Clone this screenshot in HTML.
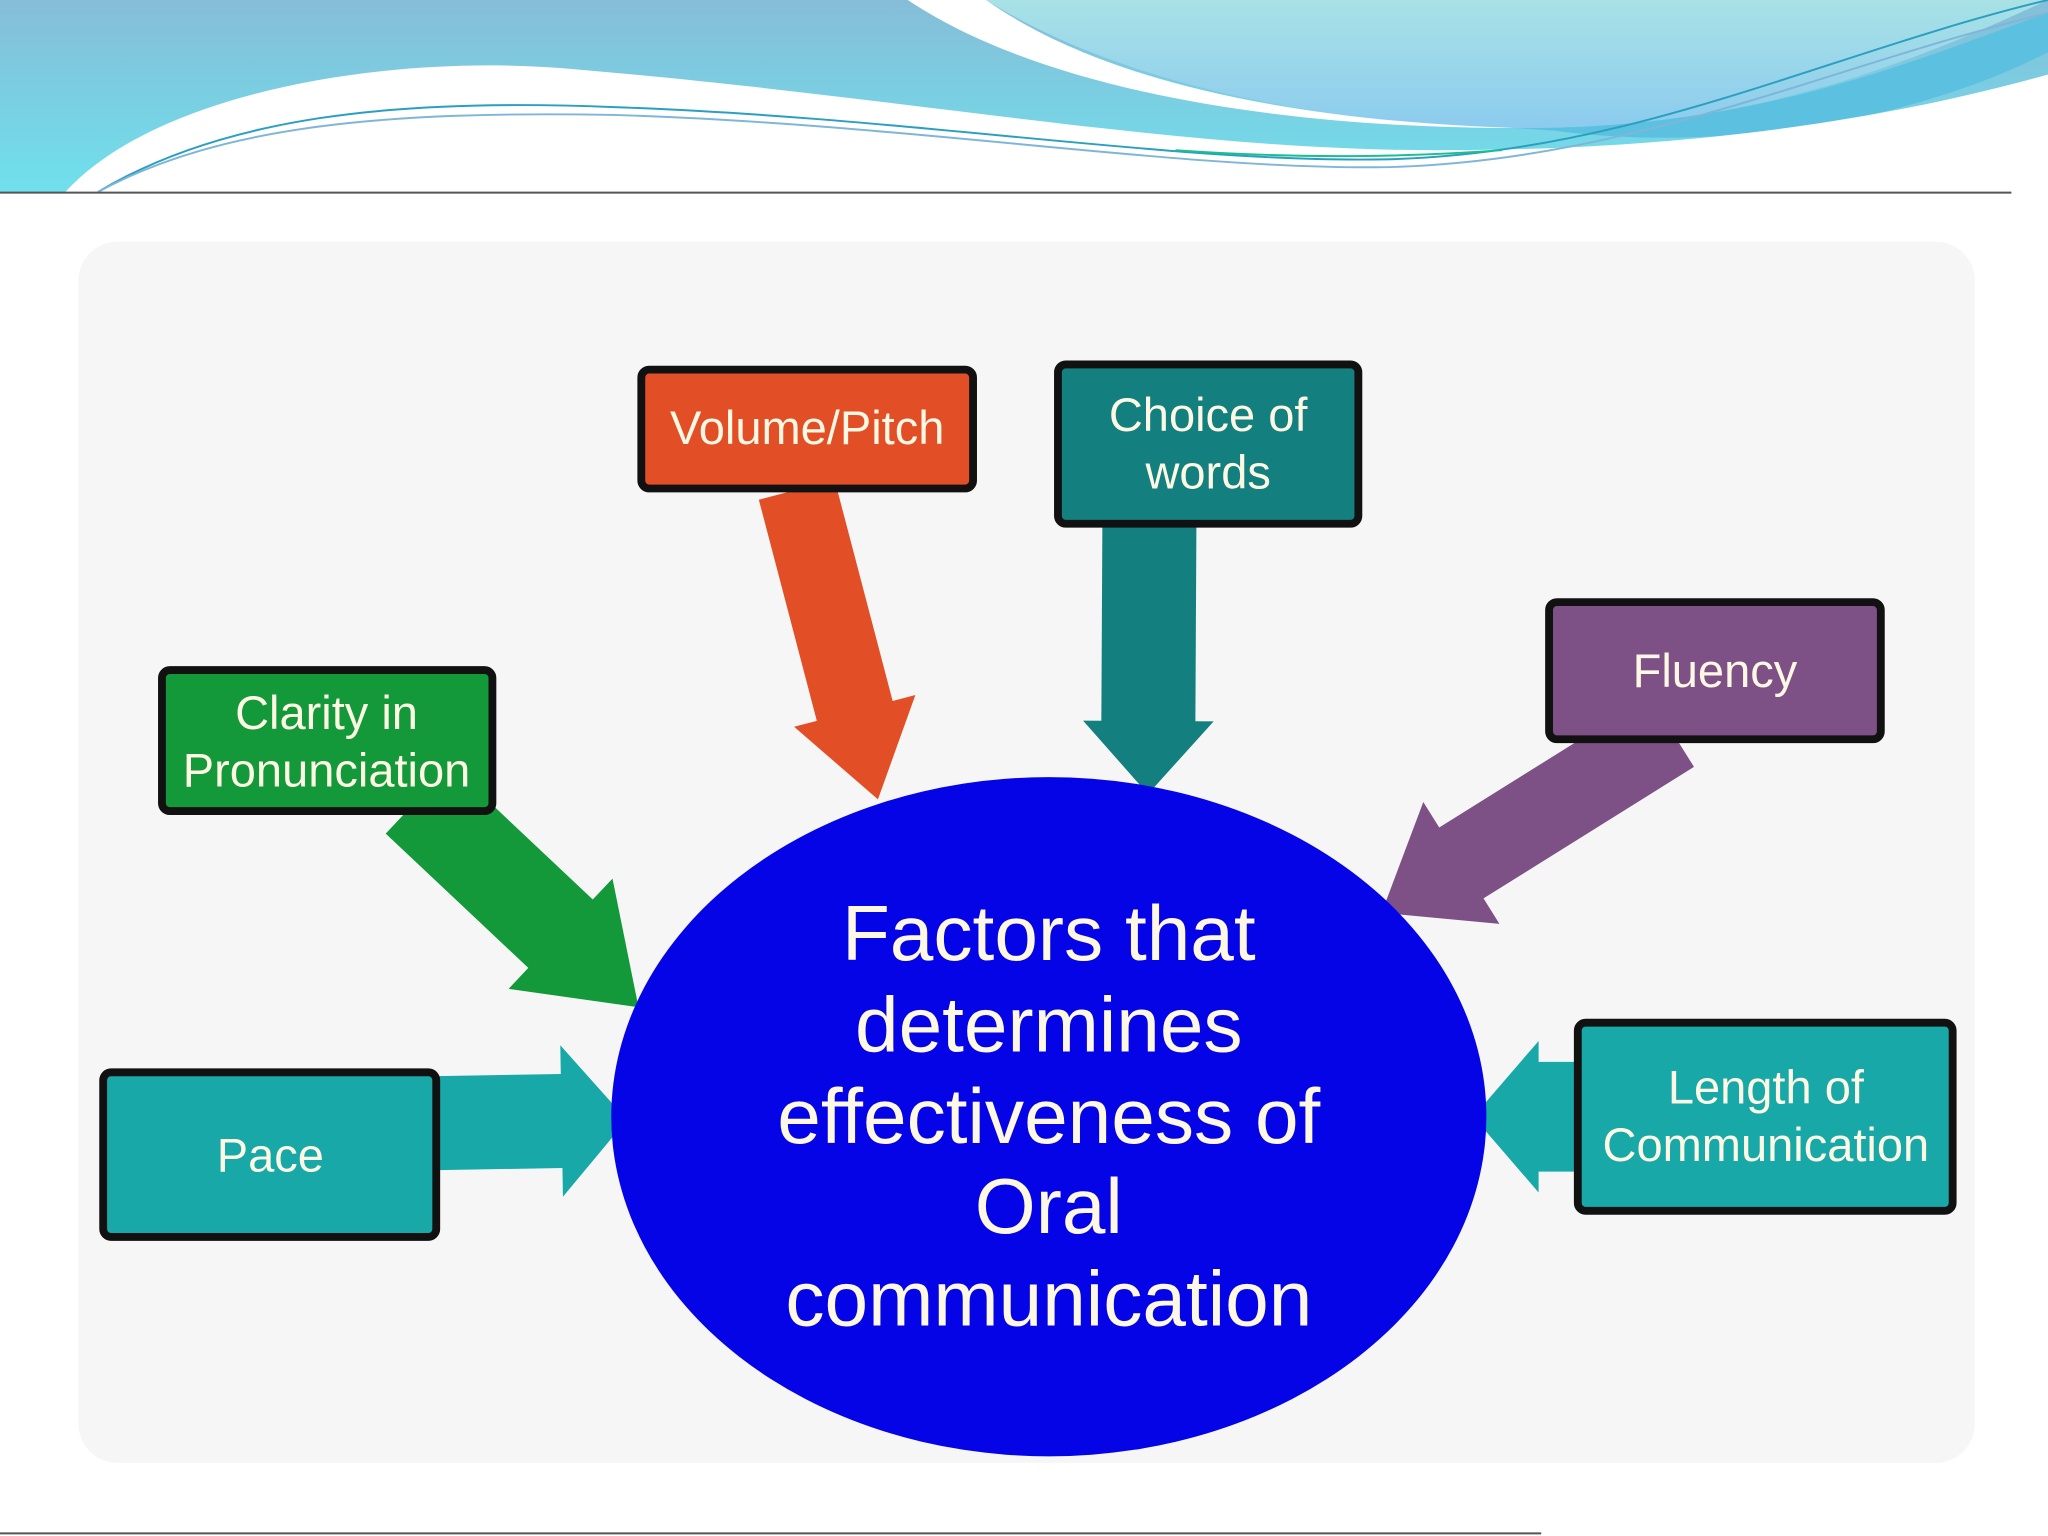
<!DOCTYPE html>
<html><head><meta charset="utf-8"><style>
html,body{margin:0;padding:0;width:2048px;height:1536px;overflow:hidden;background:#fff}
svg{display:block}
text{font-family:"Liberation Sans",sans-serif;fill:#fdf8e4;text-anchor:middle}
</style></head><body>
<svg width="2048" height="1536" viewBox="0 0 1568 1176" preserveAspectRatio="none" xmlns="http://www.w3.org/2000/svg">
<defs>
<linearGradient id="hb" x1="0" y1="0" x2="0" y2="1"><stop offset="0" stop-color="#86bdd8"/><stop offset="1" stop-color="#6fe0ec"/></linearGradient>
<linearGradient id="pb" x1="0" y1="0" x2="0" y2="1"><stop offset="0" stop-color="#a8e2e6"/><stop offset="1" stop-color="#8ccbee"/></linearGradient>
</defs>
<rect x="0" y="0" width="1568" height="147" fill="url(#hb)"/>
<path d="M755,0 C850,60 1000,95 1160,98 C1350,100 1480,40 1568,0 Z" fill="url(#pb)"/>
<path d="M1160,98 C1350,100 1480,40 1568,10 L1568,40 C1450,100 1300,115 1190,100 Z" fill="#5cc0e0"/>
<path d="M695,0 C800,70 980,97 1150,98 L1160,98 C980,92 840,60 755,0 Z" fill="#fff"/>
<path d="M50,147 C120,70 300,40 440,53 C700,75 900,115 1100,115 C1300,115 1450,90 1568,57 L1568,147 Z" fill="#fff"/>
<path d="M75,147 C170,90 300,75 470,82 C700,90 900,125 1060,122 C1250,118 1400,40 1568,0" fill="none" stroke="#2a9fc0" stroke-width="1.5"/>
<path d="M75,147 C170,95 300,85 470,88 C700,95 900,130 1060,128 C1250,124 1400,50 1568,10" fill="none" stroke="#7fb6d8" stroke-width="1.5"/>
<path d="M900,115 C1000,122 1080,120 1150,115" fill="none" stroke="#18c090" stroke-width="1.5"/>
<line x1="0" y1="147.5" x2="1540" y2="147.5" stroke="#555" stroke-width="1.5"/>
<rect x="60" y="185" width="1452" height="935" rx="30" fill="#f6f6f7"/>
<line x1="0" y1="1174" x2="1180" y2="1174" stroke="#555" stroke-width="1.5"/>

<!-- arrows -->
<g transform="translate(610,375) rotate(75.3)"><polygon points="0,-30 175,-30 175,-48 245,0 175,48 175,30 0,30" fill="#e24e26"/></g>
<g transform="translate(880,402) rotate(90.3)"><polygon points="0,-36 150,-36 150,-50 206,0 150,50 150,36 0,36" fill="#137f7e"/></g>
<g transform="translate(320,612) rotate(43.3)"><polygon points="0,-36 150,-36 150,-58 232,0 150,58 150,36 0,36" fill="#13983a"/></g>
<g transform="translate(1280,560) rotate(148)"><polygon points="0,-32 190,-32 190,-55 262,0 190,55 190,32 0,32" fill="#7e5186"/></g>
<g transform="translate(330,860) rotate(-1)"><polygon points="0,-36 100,-36 100,-58 150,0 100,58 100,36 0,36" fill="#19a8a8"/></g>
<g transform="translate(1210,855) rotate(180)"><polygon points="0,-42 32,-42 32,-58 82,0 32,58 32,42 0,42" fill="#19a8a8"/></g>

<ellipse cx="803" cy="855" rx="335" ry="260" fill="#0404e6"/>
<g style="font-size:60px">
<text x="803" y="735">Factors that</text>
<text x="803" y="805">determines</text>
<text x="803" y="875">effectiveness of</text>
<text x="803" y="944">Oral</text>
<text x="803" y="1015">communication</text>
</g>

<g stroke="#111" stroke-width="6">
<rect x="491" y="283" width="254" height="91" rx="6" fill="#e24e26"/>
<rect x="810" y="279" width="230" height="122" rx="6" fill="#137f7e"/>
<rect x="124" y="513" width="253" height="108" rx="6" fill="#13983a"/>
<rect x="1186" y="461" width="254" height="105" rx="6" fill="#7e5186"/>
<rect x="79" y="821" width="255" height="126" rx="6" fill="#19a8a8"/>
<rect x="1208" y="783" width="287" height="144" rx="6" fill="#19a8a8"/>
</g>
<g style="font-size:36px">
<text x="618" y="340">Volume/Pitch</text>
<text x="925" y="330">Choice of</text>
<text x="925" y="374">words</text>
<text x="250" y="558">Clarity in</text>
<text x="250" y="602">Pronunciation</text>
<text x="1313" y="526">Fluency</text>
<text x="207" y="897">Pace</text>
<text x="1352" y="845">Length of</text>
<text x="1352" y="889">Communication</text>
</g>
</svg>
</body></html>
